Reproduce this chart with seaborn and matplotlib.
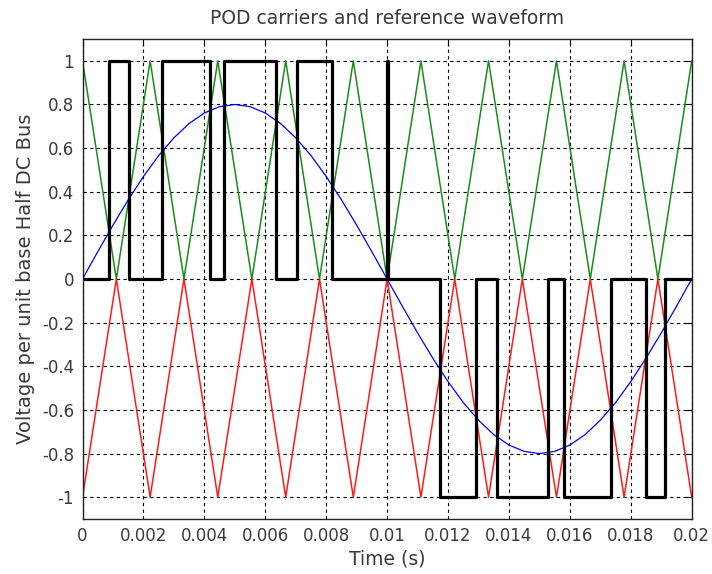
import numpy as np
import pandas as pd
import matplotlib
matplotlib.use("Agg")
import matplotlib.pyplot as plt
import seaborn as sns

# ---- data ----
# carrier vertices (s) and upper (green) carrier values
carrier_t = [0.0, 0.00111, 0.00222, 0.00333, 0.00444, 0.00556, 0.00667, 0.00778,
             0.00889, 0.01, 0.01111, 0.01222, 0.01333, 0.01444, 0.01556, 0.01667,
             0.01778, 0.01889, 0.02]
upper_carrier = [1, 0, 1, 0, 1, 0, 1, 0, 1, 0, 1, 0, 1, 0, 1, 0, 1, 0, 1]
lower_carrier = [-1, 0, -1, 0, -1, 0, -1, 0, -1, 0, -1, 0, -1, 0, -1, 0, -1, 0, -1]

# reference waveform samples
ref_t = [i * 0.0005 for i in range(41)]
ref_v = [0.0, 0.125, 0.247, 0.363, 0.470, 0.566, 0.647, 0.713, 0.761, 0.790,
         0.800, 0.790, 0.761, 0.713, 0.647, 0.566, 0.470, 0.363, 0.247, 0.125,
         0.0, -0.125, -0.247, -0.363, -0.470, -0.566, -0.647, -0.713, -0.761, -0.790,
         -0.800, -0.790, -0.761, -0.713, -0.647, -0.566, -0.470, -0.363, -0.247, -0.125,
         0.0]

# PWM output switching instants and levels (held until next instant)
pwm_t = [0.0, 0.00086, 0.00152, 0.00261, 0.00417, 0.00465, 0.00636, 0.00705,
         0.00819, 0.00999, 0.01003, 0.01175, 0.01292, 0.01360, 0.01527, 0.01580,
         0.01735, 0.01850, 0.01913, 0.02]
pwm_v = [0, 1, 0, 1, 0, 1, 0, 1, 0, 1, 0, -1, 0, -1, 0, -1, 0, -1, 0, 0]

xticks = [0, 0.002, 0.004, 0.006, 0.008, 0.01, 0.012, 0.014, 0.016, 0.018, 0.02]
xticklabels = ["0", "0.002", "0.004", "0.006", "0.008", "0.01", "0.012", "0.014",
               "0.016", "0.018", "0.02"]
yticks = [1, 0.8, 0.6, 0.4, 0.2, 0, -0.2, -0.4, -0.6, -0.8, -1]
yticklabels = ["1", "0.8", "0.6", "0.4", "0.2", "0", "-0.2", "-0.4", "-0.6", "-0.8", "-1"]

title = "POD carriers and reference waveform"
xlabel = "Time (s)"
ylabel = "Voltage per unit base Half DC Bus"

# ---- plotting ----
sns.set_style("white")
plt.rcParams["font.family"] = ["DejaVu Sans"]
txt = "#3a3a3a"

fig = plt.figure(figsize=(7.12, 5.74), dpi=100)
ax = fig.add_axes([0.1159, 0.0958, 0.9715 - 0.1159, 0.932 - 0.0958])

sns.lineplot(x=carrier_t, y=upper_carrier, ax=ax, color="#1a8c1a", lw=1.1,
             estimator=None, sort=False)
sns.lineplot(x=carrier_t, y=lower_carrier, ax=ax, color="#ff1a1a", lw=1.1,
             estimator=None, sort=False)
sns.lineplot(x=ref_t, y=ref_v, ax=ax, color="#0000ff", lw=0.9,
             estimator=None, sort=False)
sns.lineplot(x=pwm_t, y=pwm_v, ax=ax, color="black", lw=2.3,
             estimator=None, sort=False, drawstyle="steps-post")

ax.set_xlim(0, 0.02)
ax.set_ylim(-1.1, 1.1)
ax.set_xticks(xticks)
ax.set_xticklabels(xticklabels)
ax.set_yticks(yticks)
ax.set_yticklabels(yticklabels)
ax.grid(True, color="black", linestyle=(0, (3, 3)), lw=0.8)
ax.tick_params(direction="in", length=5, width=0.8, top=True, right=True,
               labelsize=12, colors=txt, pad=6)
ax.tick_params(axis="both", which="both", color="black")
for s in ax.spines.values():
    s.set_color("#222222")
    s.set_linewidth(1.0)

ax.set_title(title, fontsize=13.5, color=txt, pad=11)
ax.set_xlabel(xlabel, fontsize=13.5, color=txt, labelpad=3)
ax.set_ylabel(ylabel, fontsize=14, color=txt, labelpad=5)

fig.savefig("out.png", dpi=100)
